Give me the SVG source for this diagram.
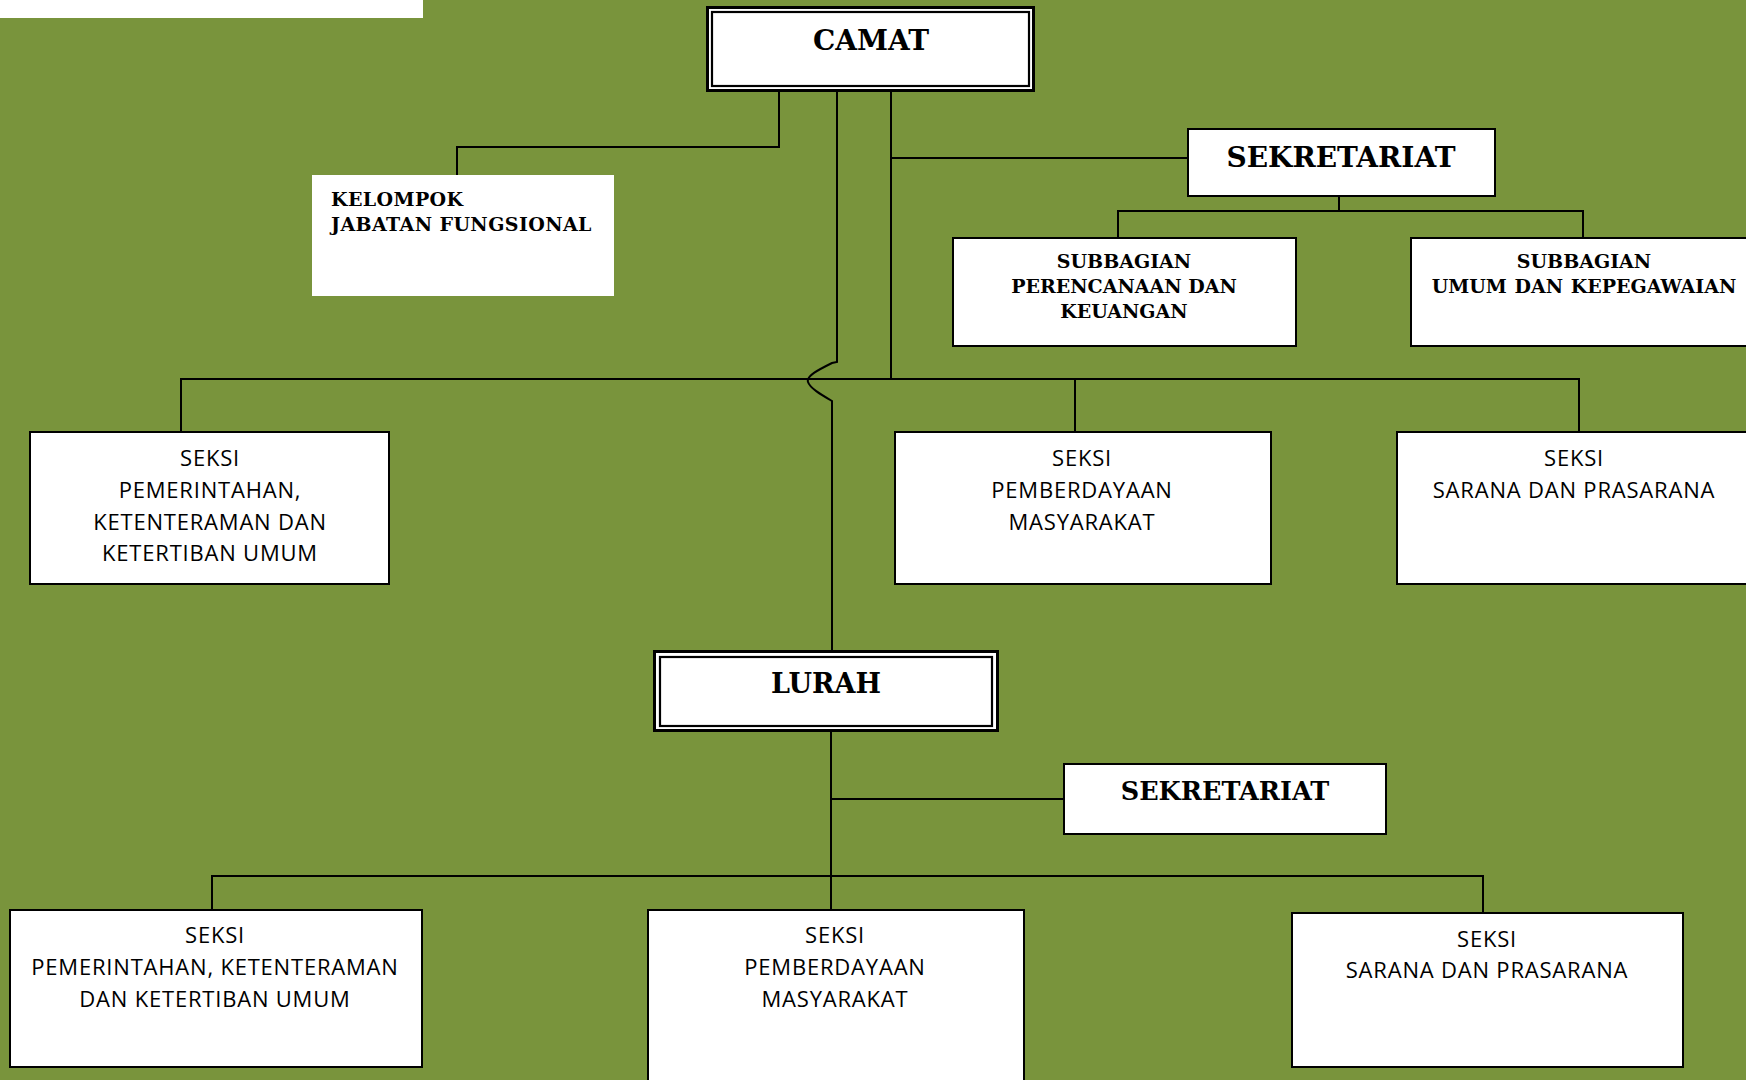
<svg xmlns="http://www.w3.org/2000/svg" width="1746" height="1080" viewBox="0 0 1746 1080">
  <style>
    .bg { fill: #79943c; }
    .box { fill: #ffffff; stroke: #000000; stroke-width: 2; }
    .plain { fill: #ffffff; stroke: none; }
    .outer { fill: #ffffff; stroke: #000000; stroke-width: 3; }
    .inner { fill: none; stroke: #000000; stroke-width: 2.2; }
    .conn { fill: none; stroke: #000000; stroke-width: 2; }
    .head { font-family: "DejaVu Serif", "Liberation Serif", serif; font-weight: bold; fill: #000; text-anchor: middle; }
    .sub { font-family: "DejaVu Serif", "Liberation Serif", serif; font-weight: bold; font-size: 19px; fill: #000; text-anchor: middle; }
    .left { text-anchor: start; }
    .seksi { font-family: "Open Sans", "Liberation Sans", sans-serif; font-size: 22px; letter-spacing: 0.8px; fill: #000; text-anchor: middle; }
  </style>

  <rect class="bg" x="0" y="0" width="1746" height="1080"/>
  <rect class="plain" x="0" y="0" width="423" height="18"/>

  <!-- connectors -->
  <g id="connectors">
    <!-- camat to kelompok jabatan fungsional -->
    <path class="conn" d="M779,92 V147 H457 V185"/>
    <!-- camat to lurah, hopping over the seksi bus -->
    <path class="conn" d="M837,92 V362 L832,363 C818,370 806,376 808,382 C810,388 820,394 832,401 V650"/>
    <!-- camat to sekretariat and seksi bus -->
    <path class="conn" d="M891,92 V380"/>
    <path class="conn" d="M891,158 H1187"/>
    <!-- sekretariat to subbagian -->
    <path class="conn" d="M1339,197 V211"/>
    <path class="conn" d="M1118,237 V211 H1583 V237"/>
    <!-- seksi bus (kecamatan) -->
    <path class="conn" d="M181,431 V379 H1579 V431"/>
    <path class="conn" d="M1075,379 V431"/>
    <!-- lurah -->
    <path class="conn" d="M831,732 V909"/>
    <path class="conn" d="M831,799 H1063"/>
    <path class="conn" d="M212,909 V876 H1483 V912"/>
  </g>

  <g id="camat">
    <rect class="outer" x="707.5" y="7.5" width="326" height="83"/>
    <rect class="inner" x="712" y="12" width="317" height="74"/>
    <text class="head" x="871" y="50" font-size="28">CAMAT</text>
  </g>

  <g id="kelompok-jabatan-fungsional">
    <rect class="plain" x="312" y="175" width="302" height="121"/>
    <text class="sub left" x="331" y="206" letter-spacing="0.4">KELOMPOK</text>
    <text class="sub left" x="331" y="231" letter-spacing="0.4">JABATAN FUNGSIONAL</text>
  </g>

  <g id="sekretariat-kecamatan">
    <rect class="box" x="1188" y="129" width="307" height="67"/>
    <text class="head" x="1341" y="167" font-size="28">SEKRETARIAT</text>
  </g>

  <g id="subbagian-perencanaan">
    <rect class="box" x="953" y="238" width="343" height="108"/>
    <text class="sub" x="1124" y="268">SUBBAGIAN</text>
    <text class="sub" x="1124" y="293">PERENCANAAN DAN</text>
    <text class="sub" x="1124" y="318">KEUANGAN</text>
  </g>

  <g id="subbagian-umum">
    <rect class="box" x="1411" y="238" width="360" height="108"/>
    <text class="sub" x="1584" y="268">SUBBAGIAN</text>
    <text class="sub" x="1584" y="293" word-spacing="1">UMUM DAN KEPEGAWAIAN</text>
  </g>

  <g id="seksi-pemerintahan-kecamatan">
    <rect class="box" x="30" y="432" width="359" height="152"/>
    <text class="seksi" x="210" y="466">SEKSI</text>
    <text class="seksi" x="210" y="498">PEMERINTAHAN,</text>
    <text class="seksi" x="210" y="530">KETENTERAMAN DAN</text>
    <text class="seksi" x="210" y="561">KETERTIBAN UMUM</text>
  </g>

  <g id="seksi-pemberdayaan-kecamatan">
    <rect class="box" x="895" y="432" width="376" height="152"/>
    <text class="seksi" x="1082" y="466">SEKSI</text>
    <text class="seksi" x="1082" y="498">PEMBERDAYAAN</text>
    <text class="seksi" x="1082" y="530">MASYARAKAT</text>
  </g>

  <g id="seksi-sarana-kecamatan">
    <rect class="box" x="1397" y="432" width="380" height="152"/>
    <text class="seksi" x="1574" y="466">SEKSI</text>
    <text class="seksi" x="1574" y="498">SARANA DAN PRASARANA</text>
  </g>

  <g id="lurah">
    <rect class="outer" x="654.5" y="651.5" width="343" height="79"/>
    <rect class="inner" x="660" y="657" width="332" height="69"/>
    <text class="head" x="826" y="693" font-size="27">LURAH</text>
  </g>

  <g id="sekretariat-kelurahan">
    <rect class="box" x="1064" y="764" width="322" height="70"/>
    <text class="head" x="1225" y="800" font-size="25.5">SEKRETARIAT</text>
  </g>

  <g id="seksi-pemerintahan-kelurahan">
    <rect class="box" x="10" y="910" width="412" height="157"/>
    <text class="seksi" x="215" y="943">SEKSI</text>
    <text class="seksi" x="215" y="975">PEMERINTAHAN, KETENTERAMAN</text>
    <text class="seksi" x="215" y="1007">DAN KETERTIBAN UMUM</text>
  </g>

  <g id="seksi-pemberdayaan-kelurahan">
    <rect class="box" x="648" y="910" width="376" height="190"/>
    <text class="seksi" x="835" y="943">SEKSI</text>
    <text class="seksi" x="835" y="975">PEMBERDAYAAN</text>
    <text class="seksi" x="835" y="1007">MASYARAKAT</text>
  </g>

  <g id="seksi-sarana-kelurahan">
    <rect class="box" x="1292" y="913" width="391" height="154"/>
    <text class="seksi" x="1487" y="947">SEKSI</text>
    <text class="seksi" x="1487" y="978">SARANA DAN PRASARANA</text>
  </g>
</svg>
